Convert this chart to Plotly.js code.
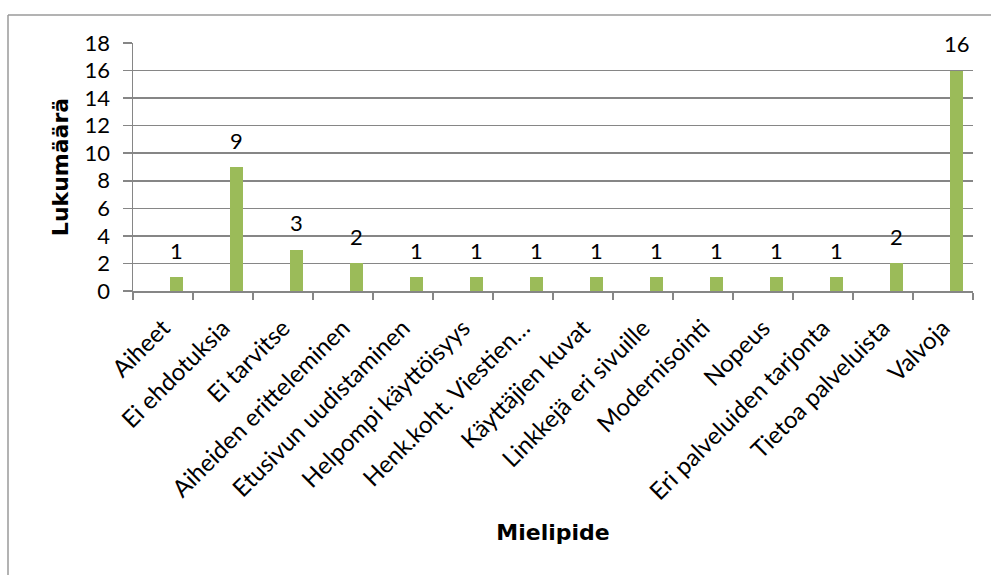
<!DOCTYPE html>
<html>
<head>
<meta charset="utf-8">
<script src="https://cdn.plot.ly/plotly-3.0.1.min.js"></script>
<style>html,body{margin:0;padding:0;background:#fff;}#chart{width:991px;height:575px;}</style>
</head>
<body>
<div id="chart"></div>
<script>
const categories = ["Aiheet", "Ei ehdotuksia", "Ei tarvitse", "Aiheiden eritteleminen", "Etusivun uudistaminen", "Helpompi käyttöisyys", "Henk.koht. Viestien…", "Käyttäjien kuvat", "Linkkejä eri sivuille", "Modernisointi", "Nopeus", "Eri palveluiden tarjonta", "Tietoa palveluista", "Valvoja"];
const values = [1, 9, 3, 2, 1, 1, 1, 1, 1, 1, 1, 1, 2, 16];
const yTicks = [0, 2, 4, 6, 8, 10, 12, 14, 16, 18];
const xTitle = "Mielipide";
const yTitle = "Lukumäärä";

const grey = "#868686";
const tickFont = {family: "Lato, 'Open Sans', sans-serif", size: 22, color: "#000"};
const xTickFont = {family: "Lato, 'Open Sans', sans-serif", size: 24, color: "#000"};
const titleFont = {family: "'DejaVu Sans', sans-serif", size: 22, color: "#000", weight: "bold"};

const barOffset = 0.12, barWidth = 0.21;
const plotW = 991 - 133 - 18;
const labelShift = (barOffset + barWidth / 2) * plotW / categories.length;

const trace = {
  type: "bar",
  x: categories,
  y: values,
  marker: {color: "#9BBB59"},
  width: barWidth,
  offset: barOffset,
  hoverinfo: "x+y"
};

const annotations = categories.map((c, i) => ({
  x: c, y: values[i], xref: "x", yref: "y",
  text: String(values[i]), showarrow: false,
  xanchor: "center", yanchor: "middle",
  xshift: labelShift, yshift: 27,
  font: tickFont
}));

const L = 133, R = 973, T = 43, B = 291;
const px = v => (v - L) / (R - L);
const py = v => (B - v) / (B - T);

const layout = {
  width: 991, height: 575,
  margin: {l: L, r: 991 - R, t: T, b: 575 - B},
  paper_bgcolor: "#fff", plot_bgcolor: "#fff",
  showlegend: false,
  bargap: 0,
  xaxis: {
    type: "category",
    showline: true, linecolor: grey, linewidth: 1.5,
    ticks: "outside", tickson: "boundaries", ticklen: 7, tickcolor: grey, tickwidth: 1.5,
    tickangle: -45, tickfont: xTickFont,
    ticklabelstandoff: 12,
    showgrid: false, zeroline: false,
    title: {text: xTitle, font: titleFont, standoff: 20}
  },
  yaxis: {
    range: [0, 18], tickvals: yTicks, ticktext: yTicks.map(String),
    showline: true, linecolor: grey, linewidth: 1.5,
    ticks: "outside", ticklen: 9, tickcolor: grey, tickwidth: 1.5,
    showgrid: true, gridcolor: grey, gridwidth: 1.5,
    zeroline: false, tickfont: tickFont,
    ticklabelstandoff: 8,
    title: {text: yTitle, font: titleFont, standoff: 10}
  },
  annotations: annotations,
  shapes: [
    {type: "line", xref: "paper", yref: "paper", x0: px(8), x1: px(8), y0: py(15), y1: py(576), line: {color: "#9a9a9a", width: 1.5}},
    {type: "line", xref: "paper", yref: "paper", x0: px(8), x1: px(992), y0: py(15), y1: py(15), line: {color: "#9a9a9a", width: 1.5}}
  ]
};

Plotly.newPlot("chart", [trace], layout, {displayModeBar: false, staticPlot: true});
</script>
</body>
</html>
